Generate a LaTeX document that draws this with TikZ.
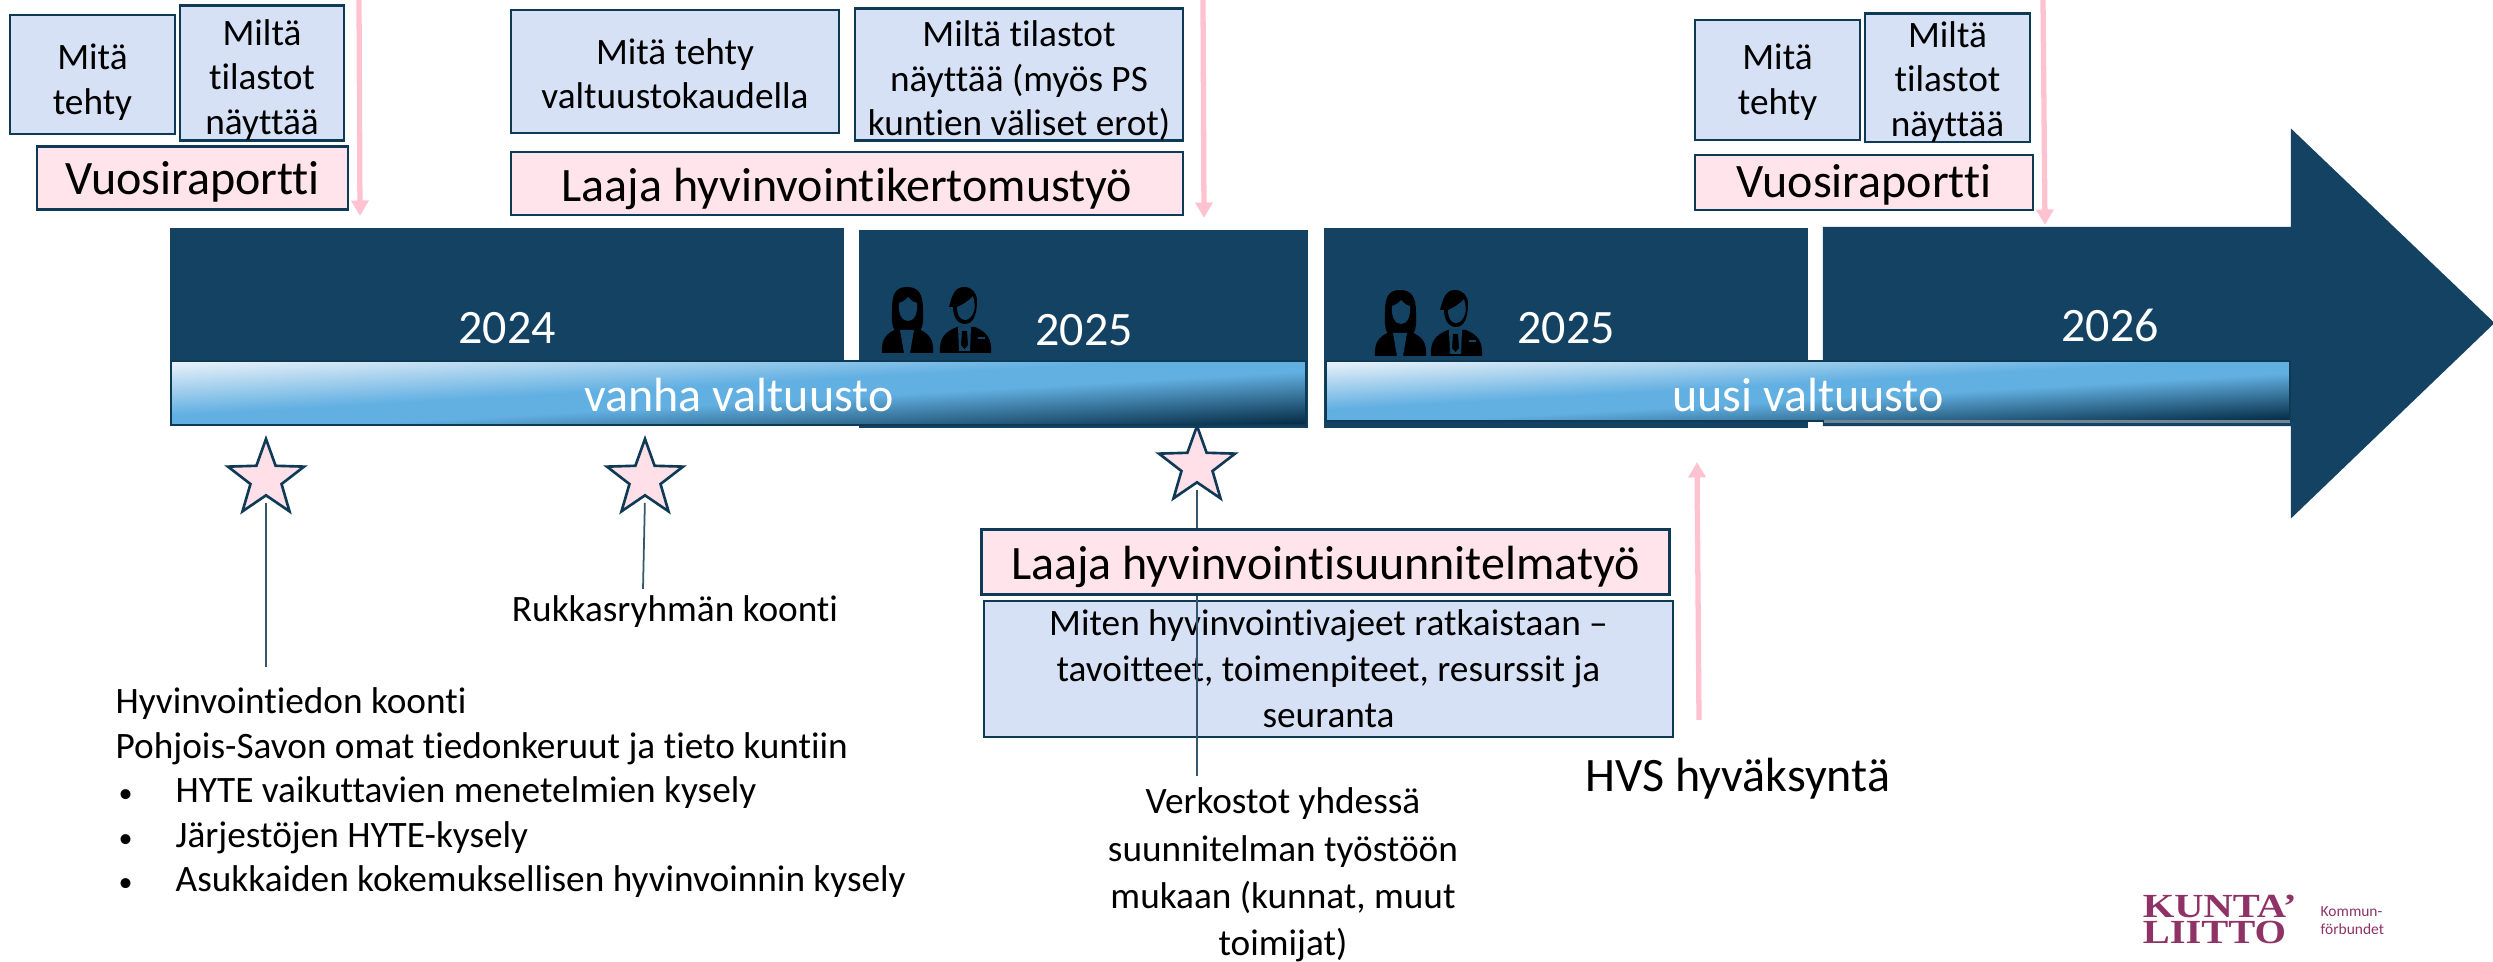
\documentclass[tikz,border=0pt]{standalone}
\usepackage{fontspec}
\setmainfont{Carlito}[Ligatures=CommonOff]
\newfontfamily\logofont{Liberation Serif}
\usetikzlibrary{arrows.meta,shapes.geometric}
\definecolor{navy}{HTML}{134263}
\definecolor{edge}{HTML}{0F3A55}
\definecolor{lightbox}{HTML}{D7E1F5}
\definecolor{pinkbox}{HTML}{FFE4EC}
\definecolor{pinkline}{HTML}{FFC2D1}
\definecolor{barlight}{HTML}{E4EFF8}
\definecolor{barblue}{HTML}{62B0E2}
\definecolor{bardark}{HTML}{08304A}
\definecolor{barstrip}{HTML}{6F8696}
\definecolor{logopurple}{HTML}{8F3366}
\pgfdeclareverticalshading{barshade}{100bp}{color(0bp)=(bardark); color(25bp)=(bardark); color(46bp)=(barblue); color(54bp)=(barblue); color(75bp)=(barlight); color(100bp)=(barlight)}
\newcommand{\listdot}{\makebox[.6cm][l]{\hspace{.03cm}\fontsize{8}{8}\selectfont•}}
\tikzset{
  boxsize/.style 2 args={minimum width=#1*0.01cm, minimum height=#2*0.01cm},
  textdown/.style={execute at begin node={\rule{0pt}{#1}}},
  small/.style={font=\fontsize{10.6}{12.66}\selectfont, align=center, inner sep=0},
  large/.style={font=\fontsize{13.65}{15}\selectfont, align=center, inner sep=0},
  infobox/.style={small, draw=edge, line width=.75pt, fill=lightbox},
  reportbox/.style={large, draw=edge, line width=.75pt, fill=pinkbox},
  yearbox/.style={draw=navy, line width=.6pt, fill=navy, inner sep=0},
  councilbar/.style={draw=edge, line width=.75pt, shade, shading=barshade, shading angle=3.2, inner sep=0},
  whitetext/.style={large, text=white},
  starmark/.style={star, star points=5, star point ratio=2.45, minimum size=.8cm, inner sep=0, draw=edge, line width=.75pt, fill=pinkbox!85!pinkline},
  starline/.style={draw=edge!85!white, line width=.5pt, shorten <=1.7pt},
  pinkarrow/.style={draw=pinkline, line width=1.5pt, -{Triangle[width=4.8pt,length=4.4pt]}},
  logotext/.style={inner sep=0, text=logopurple, anchor=west},
  logobig/.style={logotext, xscale=1.2, font=\logofont\bfseries\fontsize{9.6}{9.6}\selectfont},
  logosmall/.style={logotext, font=\fontsize{4.4}{5}\selectfont},
  womanicon/.pic={
    \fill[black] (0,66) .. controls (-1,52) and (4,46) .. (17,41) -- (34,41) .. controls (47,46) and (52,52) .. (51,66) -- cycle;
    \fill[black] (25,0) .. controls (13,0) and (10,8) .. (10,22) .. controls (10,32) and (9,38) .. (13,44) -- (38,44) .. controls (42,38) and (41,32) .. (41,22) .. controls (41,8) and (37,0) .. (25,0) -- cycle;
    \fill[navy] (26,10) .. controls (24,13) and (20,15) .. (17,16) .. controls (16,27) and (20,34) .. (26,34) .. controls (32,34) and (36,27) .. (35,16) .. controls (31,15) and (28,13) .. (26,10) -- cycle;
    \fill[navy] (18,43) -- (32,43) -- (28,66) -- (22,66) -- cycle;
  },
  manicon/.pic={
    \fill[black] (0,66) .. controls (-1,52) and (4,45) .. (17,40) -- (35,40) .. controls (47,45) and (52,52) .. (51,66) -- cycle;
    \fill[black] (24,0) .. controls (15,0) and (12,8) .. (9,20) -- (13,20) .. controls (13,29) and (17,37) .. (25,37) .. controls (33,37) and (37,28) .. (37,14) .. controls (37,6) and (32,0) .. (24,0) -- cycle;
    \fill[navy] (17,20) .. controls (22,18) and (29,14) .. (33,9) .. controls (35,15) and (35,22) .. (34,24) .. controls (32,30) and (29,33) .. (25,33) .. controls (20,33) and (17,28) .. (17,20) -- cycle;
    \fill[navy] (18,40) -- (31,40) -- (30,64) -- (19,64) -- cycle;
    \fill[black] (22,44) -- (27,44) -- (28,58) -- (24.5,62) -- (21,58) -- cycle;
    \fill[navy] (38,50) rectangle (45,52);
  },
}
\begin{document}
\begin{tikzpicture}[x=0.01cm, y=-0.01cm]
    \useasboundingbox (0,0) rectangle (2493,962);
    % timeline
    \node[yearbox, boxsize={672}{196}] (y2024) at (507,327){};
    \node[yearbox, boxsize={447}{196}] (y2025a) at (1083.5,329){};
    \node[yearbox, boxsize={482}{198}] (y2025b) at (1566,328){};
    \filldraw[navy, line width=.6pt] (1824,228) -- (2292,228) -- (2292,131) -- (2493,323) -- (2292,516) -- (2292,425) -- (1824,425) -- cycle;
    \node[councilbar, boxsize={1135}{64}] (oldbar) at (738.5,393){};
    \node[councilbar, boxsize={964}{60}] (newbar) at (1808,391){};
    \fill[barstrip] (1824,420) rectangle (2290,423);
    \node[whitetext] (t2024) at (507,328){2024};
    \node[whitetext] (t2025a) at (1084,330){2025};
    \node[whitetext] (t2025b) at (1566,328){2025};
    \node[whitetext] (t2026) at (2110,325){2026};
    \node[whitetext] (oldtext) at (739,395){vanha valtuusto};
    \node[whitetext] (newtext) at (1808,395){uusi valtuusto};
    % people
    \pic at (882,287) {womanicon};
    \pic at (940,287) {manicon};
    \pic at (1375,290) {womanicon};
    \pic at (1431,290) {manicon};
    % first report
    \node[infobox, textdown=24.4pt, boxsize={165}{119}] (done1) at (92.5,74.5){Mitä\\tehty};
    \node[infobox, textdown=36.6pt, boxsize={164}{120}] (stats1) at (262,73){Miltä\\tilastot\\näyttää};
    \node[reportbox, textdown=11.5pt, boxsize={311}{63}] (report1) at (192.5,178){Vuosiraportti};
    \coordinate (in1) at (359,0);
    \coordinate (out1) at (360,216);
    \draw[pinkarrow] (in1) -- (out1);
    % wide report
    \node[infobox, textdown=21.3pt, boxsize={328}{123}] (doneterm) at (675,71.5){Mitä tehty\\valtuustokaudella};
    \node[infobox, textdown=36.2pt, boxsize={328}{123}] (statsterm) at (1019,74.5){Miltä tilastot\\näyttää (myös PS\\kuntien väliset erot)};
    \node[reportbox, textdown=12.7pt, boxsize={672}{63}] (reportterm) at (847,183.5){Laaja hyvinvointikertomustyö};
    \coordinate (in2) at (1203,0);
    \coordinate (out2) at (1204,218);
    \draw[pinkarrow] (in2) -- (out2);
    % second report
    \node[infobox, textdown=21.3pt, boxsize={165}{120}] (done2) at (1777.5,80){Mitä\\tehty};
    \node[infobox, textdown=34.8pt, boxsize={165}{120}] (stats2) at (1947.5,78){Miltä\\tilastot\\näyttää};
    \node[reportbox, textdown=10.5pt, boxsize={338}{55}] (report2) at (1864,182.5){Vuosiraportti};
    \coordinate (in3) at (2043,0);
    \coordinate (out3) at (2045,225);
    \draw[pinkarrow] (in3) -- (out3);
    % stars
    \node[starmark] (star1) at (266,479){};
    \node[starmark] (star2) at (645,479){};
    \node[starmark] (star3) at (1197,466){};
    \coordinate (end1) at (266,667);
    \coordinate (end2) at (643,589);
    \coordinate (end3) at (1197,776);
    \draw[starline] (star1.south) -- (end1);
    \draw[starline] (star2.south) -- (end2);
    \node[infobox, boxsize={689}{136}, font=\fontsize{10.6}{13.1}\selectfont] (plan) at (1328.5,669){Miten hyvinvointivajeet ratkaistaan --\\tavoitteet, toimenpiteet, resurssit ja\\seuranta};
    \draw[starline] (star3.south) -- (end3);
    \node[reportbox, textdown=12.5pt, boxsize={688}{65}] (planwork) at (1325.5,562){Laaja hyvinvointisuunnitelmatyö};
    % texts below
    \node[small] (collect) at (675,612){Rukkasryhmän koonti};
    \node[small, align=left, anchor=west] (gather) at (115,793){Hyvinvointiedon koonti\\Pohjois-Savon omat tiedonkeruut ja tieto kuntiin\\\listdot HYTE vaikuttavien menetelmien kysely\\\listdot Järjestöjen HYTE-kysely\\\listdot Asukkaiden kokemuksellisen hyvinvoinnin kysely};
    \node[small, font=\fontsize{10.6}{13.5}\selectfont] (networks) at (1283,875){Verkostot yhdessä\\suunnitelman työstöön\\mukaan (kunnat, muut\\toimijat)};
    \node[large] (approval) at (1738,779){HVS hyväksyntä};
    \coordinate (in4) at (1699,720);
    \coordinate (out4) at (1697,462);
    \draw[pinkarrow] (in4) -- (out4);
    % logo
    \node[logobig] (kunta) at (2142,906){KUNTA’};
    \node[logobig] (liitto) at (2142,932){LIITTO};
    \node[logosmall] (kommun) at (2320,912){Kommun-};
    \node[logosmall] (forbund) at (2320,929){förbundet};
\end{tikzpicture}
\end{document}
